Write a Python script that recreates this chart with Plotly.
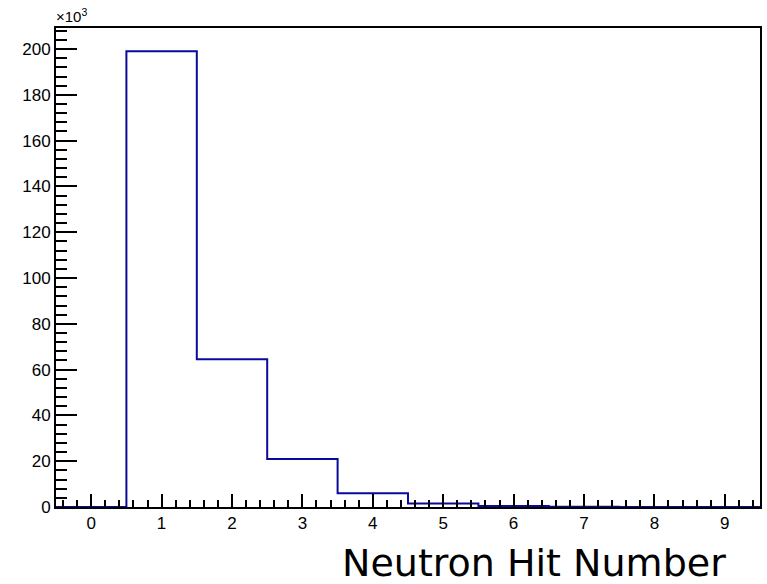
import plotly.graph_objects as go

# Data
bin_centers = [0, 1, 2, 3, 4, 5, 6, 7, 8, 9]
counts = [0, 199000, 64500, 21000, 6000, 1500, 400, 100, 0, 0]
y_tick_vals = [0, 20000, 40000, 60000, 80000, 100000, 120000, 140000, 160000, 180000, 200000]
y_tick_text = ["0", "20", "40", "60", "80", "100", "120", "140", "160", "180", "200"]
x_tick_vals = [0, 1, 2, 3, 4, 5, 6, 7, 8, 9]
x_title = "Neutron Hit Number"

# Build step outline from bin centers (width 1)
xs = [c - 0.5 for c in bin_centers] + [bin_centers[-1] + 0.5]
ys = counts + [counts[-1]]

fig = go.Figure()
fig.add_trace(go.Scatter(
    x=xs, y=ys, mode="lines", line=dict(shape="hv", color="#0a0a9a", width=2),
    cliponaxis=False, hoverinfo="skip", showlegend=False))

tick_font = dict(family="Liberation Sans, Arial, sans-serif", size=17, color="black")
fig.update_layout(
    width=767, height=584,
    margin=dict(l=56, r=5, t=28, b=77),
    paper_bgcolor="white", plot_bgcolor="white",
    xaxis=dict(range=[-0.5, 9.5], tickvals=x_tick_vals, ticks="inside", ticklen=13,
               tickwidth=2, tickcolor="black", showline=True, linewidth=2, linecolor="black",
               mirror=True, showgrid=False, zeroline=False, tickfont=tick_font,
               minor=dict(dtick=0.2, tick0=0, ticks="inside", ticklen=7, tickwidth=2,
                          tickcolor="black", showgrid=False),
               title=None),
    yaxis=dict(range=[0, 209200], tickvals=y_tick_vals, ticktext=y_tick_text, ticks="inside",
               ticklen=21, tickwidth=2, tickcolor="black", showline=True, linewidth=2,
               linecolor="black", mirror=True, showgrid=False, zeroline=False,
               tickfont=tick_font,
               minor=dict(dtick=4000, tick0=0, ticks="inside", ticklen=11, tickwidth=2,
                          tickcolor="black", showgrid=False)),
    annotations=[
        dict(text="×10<sup>3</sup>", x=0, y=1, xref="paper", yref="paper", xanchor="left",
             yanchor="bottom", showarrow=False, xshift=-2, yshift=1,
             font=dict(family="Liberation Sans, Arial, sans-serif", size=15, color="black")),
        dict(text=x_title, x=1, y=0, xref="paper", yref="paper", xanchor="right",
             yanchor="middle", showarrow=False, xshift=-33, yshift=-56, borderpad=0,
             font=dict(family="DejaVu Sans, sans-serif", size=38, color="black")),
    ],
)

fig.write_html("out.html")
